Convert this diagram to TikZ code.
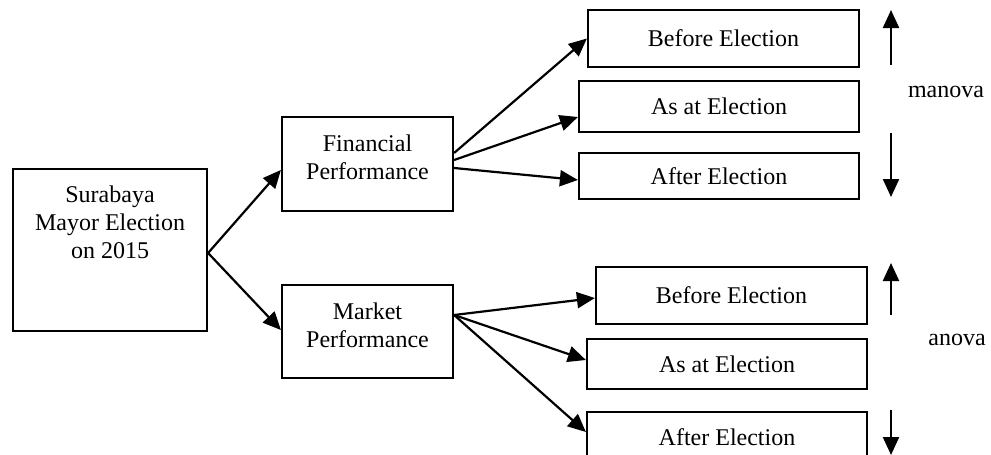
\documentclass[tikz,border=0pt]{standalone}
\usepackage{fontspec}
\setmainfont{Liberation Serif}
\usetikzlibrary{arrows.meta}
\begin{document}
\begin{tikzpicture}[x=0.5pt,y=-0.5pt,
  box/.style={draw, line width=1.1pt, inner sep=0pt, align=center, font=\fontsize{12}{13.9}\selectfont},
  txt/.style={inner sep=0pt, align=center, font=\fontsize{12}{13.9}\selectfont},
  conn/.style={line width=1.1pt, -{Triangle[length=9pt,width=8pt]}}]
\useasboundingbox (0,0) rectangle (991,455);
\clip (0,0) rectangle (991,455);
% left box
\node[box, minimum width=97pt, minimum height=81pt] (sur) at (110,250) {};
\node[txt] (surt) at (110,222) {Surabaya\\Mayor Election\\on 2015};
% middle boxes
\node[box, minimum width=85.5pt, minimum height=47pt] (fin) at (367.5,164) {};
\node[txt] (fint) at (367.5,157) {Financial\\Performance};
\node[box, minimum width=85.5pt, minimum height=46.5pt] (mkt) at (367.5,331.5) {};
\node[txt] (mktt) at (367.5,325) {Market\\Performance};
% right top
\node[box, minimum width=135.5pt, minimum height=28.5pt] (b1) at (723.5,38.5) {Before Election};
\node[box, minimum width=140pt, minimum height=25.5pt] (a1) at (719,106.5) {As at Election};
\node[box, minimum width=140pt, minimum height=23pt] (f1) at (719,176) {After Election};
% right bottom
\node[box, minimum width=135.5pt, minimum height=28.5pt] (b2) at (731.5,295.5) {Before Election};
\node[box, minimum width=140pt, minimum height=25pt] (a2) at (727,364) {As at Election};
\node[box, minimum width=140pt, minimum height=25pt] (f2) at (727,437) {After Election};
% labels
\node[txt] (man) at (946,92) {manova};
\node[txt] (ano) at (957,340) {anova};
% connectors
\draw[conn] ([yshift=-1.5pt]sur.east) -- ([yshift=-3pt]fin.west);
\draw[conn] ([yshift=-1.5pt]sur.east) -- ([yshift=0.75pt]mkt.west);
\draw[conn] ([yshift=5.5pt]fin.east) -- (b1.west);
\draw[conn] ([yshift=2pt]fin.east) -- ([yshift=-5.25pt]a1.west);
\draw[conn] ([yshift=-2pt]fin.east) -- ([yshift=-2pt]f1.west);
\draw[conn] ([yshift=8.25pt]mkt.east) -- ([yshift=-1.25pt]b2.west);
\draw[conn] ([yshift=8.25pt]mkt.east) -- ([yshift=2pt]a2.west);
\draw[conn] ([yshift=8.25pt]mkt.east) -- ([yshift=2.5pt]f2.west);
% vertical arrows
\coordinate (u1s) at (891,65);
\coordinate (u1e) at (891,10);
\coordinate (d1s) at (891,133);
\coordinate (d1e) at (891,197);
\coordinate (u2s) at (891,315);
\coordinate (u2e) at (891,263);
\coordinate (d2s) at (891,410);
\coordinate (d2e) at (891,455);
\draw[conn] (u1s) -- (u1e);
\draw[conn] (d1s) -- (d1e);
\draw[conn] (u2s) -- (u2e);
\draw[conn] (d2s) -- (d2e);
\end{tikzpicture}
\end{document}
